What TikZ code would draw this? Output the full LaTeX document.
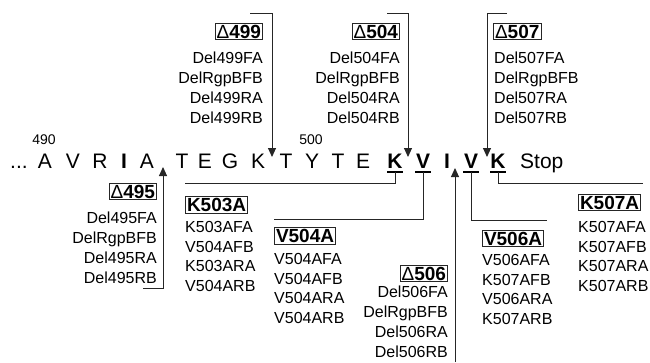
\documentclass[tikz,border=0pt]{standalone}
\usepackage{fontspec}
\setmainfont{Liberation Sans}
\usetikzlibrary{arrows.meta}
\begin{document}
\begin{tikzpicture}[x=1pt,y=-1pt,
  seq/.style={font=\fontsize{21}{25}\selectfont, anchor=base, inner sep=0pt},
  seqb/.style={font=\fontsize{21}{25}\selectfont\bfseries, anchor=base, inner sep=0pt},
  num/.style={font=\fontsize{14}{16}\selectfont, inner sep=0pt},
  title/.style={draw=black!85, line width=0.8pt, inner sep=1.6pt, font=\fontsize{19}{22}\selectfont\bfseries},
  lblr/.style={font=\fontsize{16}{19.8}\selectfont, inner sep=0pt, align=right, anchor=north east},
  lbll/.style={font=\fontsize{16}{19.8}\selectfont, inner sep=0pt, align=left, anchor=north west},
  conn/.style={line width=1pt, black!85},
  arr/.style={conn, -{Triangle[length=9pt,width=8pt]}},
  uline/.style={line width=1.8pt, black}
]
\useasboundingbox (0,0) rectangle (650,362);
\newcommand{\dlt}{{\mdseries\char"0394}}
% sequence
\node[seq] (dots) at (19,168) {...};
\node[seq] (r490) at (45,168) {A};
\node[seq] (r491) at (73,168) {V};
\node[seq] (r492) at (100,168) {R};
\node[seqb] (r493) at (124,168) {I};
\node[seq] (r494) at (147,168) {A};
\node[seq] (r495) at (182,168) {T};
\node[seq] (r496) at (205,168) {E};
\node[seq] (r497) at (230,168) {G};
\node[seq] (r498) at (258,168) {K};
\node[seq] (r499) at (286,168) {T};
\node[seq] (r500) at (312,168) {Y};
\node[seq] (r501) at (338,168) {T};
\node[seq] (r502) at (363,168) {E};
\node[seqb] (r503) at (395,168) {K};
\node[seqb] (r504) at (423,168) {V};
\node[seqb] (r505) at (447,168) {I};
\node[seqb] (r506) at (471,168) {V};
\node[seqb] (r507) at (498,168) {K};
\node[seq, anchor=base west] (stop) at (520,168) {Stop};
\node[num] (n490) at (44,140) {490};
\node[num] (n500) at (311,140) {500};
% underlines
\coordinate (u503) at (395,172);
\coordinate (u504) at (423,172);
\coordinate (u506) at (471,172);
\coordinate (u507) at (498,172);
\draw[uline] ([xshift=-8pt]u503) -- ([xshift=8pt]u503);
\draw[uline] ([xshift=-8pt]u504) -- ([xshift=8pt]u504);
\draw[uline] ([xshift=-8pt]u506) -- ([xshift=8pt]u506);
\draw[uline] ([xshift=-8pt]u507) -- ([xshift=8pt]u507);
% deletion groups (top)
\node[title, anchor=east] (t499) at (263,31.5) {\dlt499};
\node[lblr] (l499) at (263,52) {Del499FA\\DelRgpBFB\\Del499RA\\Del499RB};
\node[title, anchor=east] (t504) at (400,31.5) {\dlt504};
\node[lblr] (l504) at (400,52) {Del504FA\\DelRgpBFB\\Del504RA\\Del504RB};
\node[title, anchor=west] (t507) at (493,31.5) {\dlt507};
\node[lbll] (l507) at (494,52) {Del507FA\\DelRgpBFB\\Del507RA\\Del507RB};
% bottom groups
\node[title, anchor=east] (t495) at (157,191.5) {\dlt495};
\node[lblr] (l495) at (157,212) {Del495FA\\DelRgpBFB\\Del495RA\\Del495RB};
\node[title, anchor=west] (k503) at (185,205) {K503A};
\node[lbll] (lk503) at (185,221) {K503AFA\\V504AFB\\K503ARA\\V504ARB};
\node[title, anchor=west] (v504) at (274,236) {V504A};
\node[lbll] (lv504) at (274,253) {V504AFA\\V504AFB\\V504ARA\\V504ARB};
\node[title, anchor=east] (t506) at (448,273.5) {\dlt506};
\node[lblr] (l506) at (448,286) {Del506FA\\DelRgpBFB\\Del506RA\\Del506RB};
\node[title, anchor=west] (v506) at (482,238.5) {V506A};
\node[lbll] (lv506) at (482,254) {V506AFA\\K507AFB\\V506ARA\\K507ARB};
\node[title, anchor=west] (k507) at (578,202.5) {K507A};
\node[lbll] (lk507) at (578,221) {K507AFA\\K507AFB\\K507ARA\\K507ARB};
% arrow connectors
\coordinate (a499e) at (250,13); \coordinate (a499c) at (272,13); \coordinate (a499t) at (272,157);
\draw[arr] (a499e) -- (a499c) -- (a499t);
\coordinate (a504e) at (387,13); \coordinate (a504c) at (408,13); \coordinate (a504t) at (408,157);
\draw[arr] (a504e) -- (a504c) -- (a504t);
\coordinate (a507e) at (507,13); \coordinate (a507c) at (487,13); \coordinate (a507t) at (487,157);
\draw[arr] (a507e) -- (a507c) -- (a507t);
\coordinate (a495e) at (143,288); \coordinate (a495c) at (163,288); \coordinate (a495t) at (163,167);
\draw[arr] (a495e) -- (a495c) -- (a495t);
\coordinate (a506e) at (455,362); \coordinate (a506t) at (455,168);
\draw[arr] (a506e) -- (a506t);
% mutation connectors
\coordinate (m503) at (185,183);
\draw[conn] (u503) |- (m503);
\coordinate (m504) at (274,219);
\draw[conn] (u504) |- (m504);
\coordinate (m506) at (547,220);
\draw[conn] (u506) |- (m506);
\coordinate (m507) at (643,183);
\draw[conn] (u507) |- (m507);
\end{tikzpicture}
\end{document}
